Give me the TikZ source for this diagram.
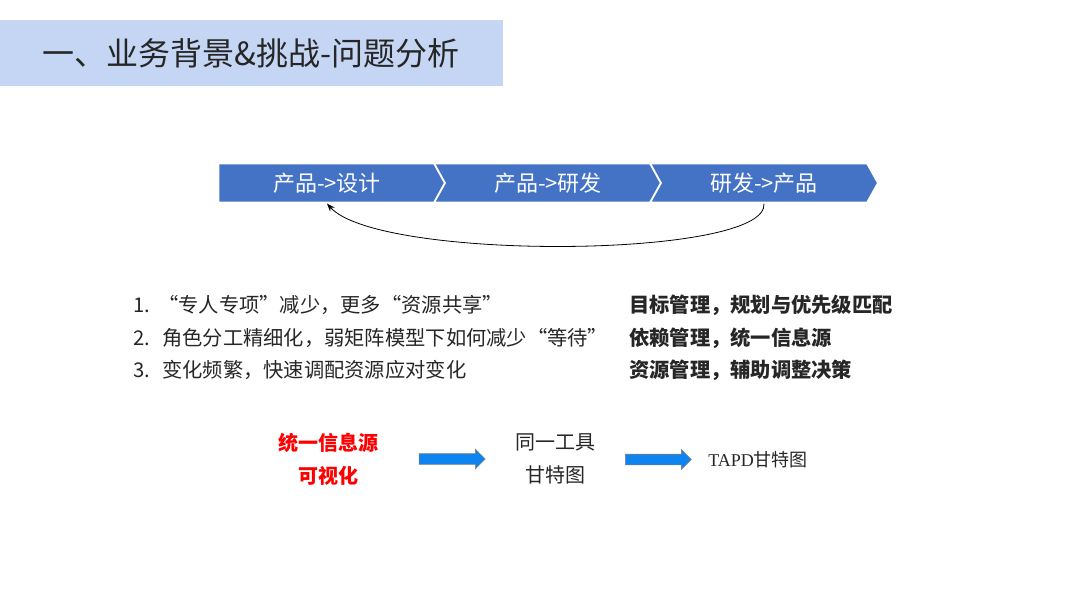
\documentclass[tikz,border=0pt]{standalone}
\usepackage{xcolor}
\usepackage{fontspec}
\setmainfont{Liberation Serif}
\newfontfamily\cjk{Noto Sans CJK SC}
\usetikzlibrary{arrows.meta, shapes.symbols, shapes.arrows, positioning, calc}

\definecolor{bandblue}{HTML}{C5D6F5}
\definecolor{stageblue}{HTML}{4472C4}
\definecolor{arrowblue}{HTML}{0D84F0}
\definecolor{inkgray}{HTML}{262626}

\tikzset{
  stage/.style={signal, signal to=east, signal pointer angle=122,
    fill=stageblue, draw=white, line width=1.4pt, text=white, inner sep=0pt,
    minimum width=171pt, minimum height=29.5pt,
    font=\cjk\fontsize{16.5}{19}\selectfont},
  item/.style={anchor=west, text=inkgray, inner sep=0pt,
    font=\cjk\fontsize{15.2}{18}\selectfont},
  goal/.style={item, font=\cjk\bfseries\fontsize{15.2}{18}\selectfont},
  blockarrow/.style={single arrow, fill=arrowblue, draw=gray, line width=0.4pt,
    inner xsep=0pt, inner ysep=3.75pt, minimum height=49.5pt,
    single arrow head extend=3.4pt},
}

\begin{document}
\begin{tikzpicture}[x=0.75pt, y=-0.75pt, >={Stealth[length=6pt, width=4.5pt]}]
    \useasboundingbox (0,0) rectangle (1080,602);
    % title bar
    \fill[bandblue] (0,20) rectangle (503,86);
    \node[anchor=west, inner sep=0pt, text=inkgray,
          font=\cjk\fontsize{24}{28}\selectfont] (title) at (42,53)
          {一、业务背景\&挑战-问题分析};

    % flow of stages
    \node[stage, signal from=nowhere] (PD) at (327,183) {产品->设计};
    \node[stage, signal from=west] (PR) at (548,183) {产品->研发};
    \node[stage, signal from=west] (RP) at (764,183) {研发->产品};
    \draw[->, line width=0.6pt] (RP.south) .. controls +(5,55) and +(52,58) .. (PD.south);

    % problems and answers
    \node[item] (n1) at (133,305) {1.};
    \node[item] (n2) at (133,338) {2.};
    \node[item] (n3) at (133,370) {3.};
    \node[item] (p1) at (158,305) {“专人专项”减少，更多“资源共享”};
    \node[item] (p2) at (162,338) {角色分工精细化，弱矩阵模型下如何减少“等待”};
    \node[item] (p3) at (162,370) {变化频繁，快速调配资源应对变化};
    \node[goal] (g1) at (629,305) {目标管理，规划与优先级匹配};
    \node[goal] (g2) at (629,338) {依赖管理，统一信息源};
    \node[goal] (g3) at (629,370) {资源管理，辅助调整决策};

    % way to the tool
    \node[align=center, text=red, inner sep=0pt,
          font=\cjk\bfseries\fontsize{15}{24.75}\selectfont] (vis) at (328,459)
          {统一信息源\\可视化};
    \node[align=center, text=inkgray, inner sep=0pt,
          font=\cjk\fontsize{15}{24.75}\selectfont] (tool) at (555,459)
          {同一工具\\甘特图};
    \node[anchor=west, text=inkgray, inner sep=0pt,
          font=\fontsize{13.5}{16}\selectfont] (tapd) at (708,460)
          {TAPD{\cjk 甘特图}};
    \node[blockarrow] (A1) at ($(vis.east)!0.5!(tool.west)+(3,0)$) {};
    \node[blockarrow] (A2) at ($(tool.east)!0.5!(tapd.west)+(4,0)$) {};
\end{tikzpicture}
\end{document}
